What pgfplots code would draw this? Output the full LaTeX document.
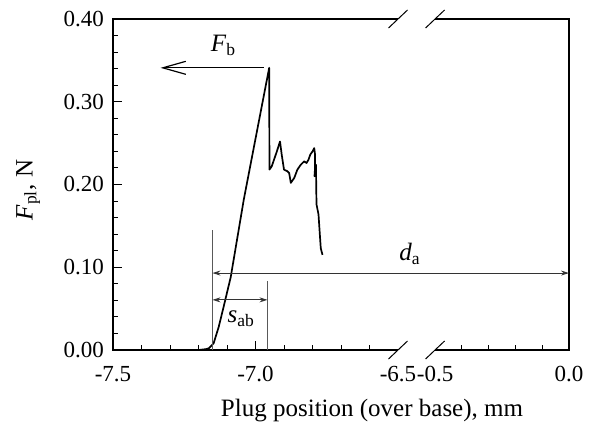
\documentclass[border=0pt]{standalone}
\usepackage{fontspec}
\setmainfont{Liberation Serif}
\usepackage{pgfplots}
\usepackage{pgfplotstable}
\pgfplotsset{compat=1.18}
\usetikzlibrary{arrows.meta}

% plug force vs. plug position (left part of the broken axis, mm)
\pgfplotstableread{
x y
-7.500 0.000
-7.400 0.000
-7.300 0.000
-7.200 0.000
-7.175 0.001
-7.164 0.002
-7.147 0.008
-7.129 0.028
-7.112 0.052
-7.087 0.088
-7.041 0.182
-6.952 0.341
-6.951 0.218
-6.943 0.222
-6.926 0.239
-6.914 0.252
-6.908 0.236
-6.900 0.218
-6.888 0.216
-6.882 0.214
-6.876 0.202
-6.864 0.208
-6.853 0.218
-6.841 0.224
-6.829 0.228
-6.821 0.226
-6.814 0.230
-6.808 0.236
-6.800 0.240
-6.794 0.244
-6.791 0.236
-6.791 0.220
-6.793 0.210
-6.788 0.224
-6.786 0.176
-6.779 0.164
-6.771 0.123
-6.765 0.115
}\curve

\begin{document}
\begin{tikzpicture}
\begin{axis}[
  name=main,
  width=228pt, height=165.5pt, scale only axis,
  xmin=-7.5, xmax=-5.9, ymin=0, ymax=0.4,
  % right part (-0.5..0.0 mm) is drawn at -6.37..-5.9 after the break
  xtick={-7.5,-7.0,-5.9},
  xticklabels={-7.5,-7.0,0.0},
  extra x ticks={-6.5,-6.37},
  extra x tick labels={-6.5,-0.5},
  extra x tick style={major tick length=0pt},
  minor xtick={-7.4,-7.3,-7.2,-7.1,-6.9,-6.8,-6.7,-6.6,-6.276,-6.182,-6.088,-5.994},
  ytick={0,0.1,0.2,0.3,0.4},
  yticklabels={0.00,0.10,0.20,0.30,0.40},
  minor y tick num=4,
  xtick pos=left, ytick pos=left,
  tick align=inside,
  major tick length=4.5pt, minor tick length=2.5pt,
  tick style={black, line width=0.5pt},
  axis line style={line width=0.6pt},
  ticklabel style={font=\fontsize{11.5}{13}\selectfont},
  xticklabel style={yshift=-4.5pt},
  yticklabel style={xshift=-1pt},
  xlabel={Plug position (over base), mm},
  ylabel={\textit{F}\textsubscript{pl}, N},
  label style={font=\fontsize{12.5}{15}\selectfont},
  xlabel style={at={(axis description cs:0.568,0)}, anchor=base, yshift=-33pt},
  ylabel style={at={(axis description cs:-0.186,0.483)}, anchor=center},
]
\addplot[black, line width=0.85pt, line join=round] table {\curve};

% annotations
\draw[gray!70!black, line width=0.5pt] (axis cs:-7.151,0) -- (axis cs:-7.151,0.145);
\draw[gray!70!black, line width=0.5pt] (axis cs:-6.958,0) -- (axis cs:-6.958,0.083);
\draw[black!80, line width=0.5pt, {Stealth[length=4pt,width=2.5pt]}-{Stealth[length=4pt,width=2.5pt]}]
  (axis cs:-7.151,0.093) -- (axis cs:-5.9,0.093);
\draw[black!80, line width=0.5pt, {Stealth[length=4pt,width=2.5pt]}-{Stealth[length=4pt,width=2.5pt]}]
  (axis cs:-7.151,0.0606) -- (axis cs:-6.958,0.0606);
\draw[black, line width=0.6pt, -{Straight Barb[length=11.5pt,width=6.5pt]}]
  (axis cs:-6.971,0.341) -- (axis cs:-7.333,0.341);
\node[font=\fontsize{12.5}{14}\selectfont] at (axis cs:-7.112,0.368) {\textit{F}\textsubscript{b}};
\node[font=\fontsize{12.5}{14}\selectfont] at (axis cs:-7.050,0.038) {\textit{s}\textsubscript{ab}};
\node[font=\fontsize{12.5}{14}\selectfont] at (axis cs:-6.458,0.116) {\textit{d}\textsubscript{a}};

\coordinate (g1) at (axis cs:-6.5,0);
\coordinate (g2) at (axis cs:-6.37,0);
\coordinate (t1) at (axis cs:-6.5,0.4);
\coordinate (t2) at (axis cs:-6.37,0.4);
\end{axis}
% axis break
\fill[white] ([yshift=-1pt]g1) rectangle ([yshift=1pt]g2);
\fill[white] ([yshift=-1pt]t1) rectangle ([yshift=1pt]t2);
\foreach \c in {g1,g2,t1,t2}
  \draw[line width=0.5pt] ([shift={(-4.75pt,-4.5pt)}]\c) -- ([shift={(4.75pt,4.5pt)}]\c);
\pgfresetboundingbox
\path (main.south west) ++(-56.5pt,-37pt) rectangle ++(296pt,212pt);
\end{tikzpicture}
\end{document}
